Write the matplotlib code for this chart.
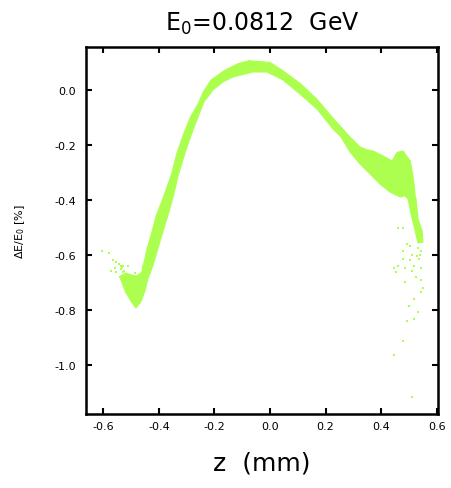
import matplotlib
matplotlib.use("Agg")
import matplotlib.pyplot as plt
from matplotlib.patches import Polygon

# Outline of the dense particle band in (z [mm], dE/E0 [%]) — traced clockwise
band_z = [-0.483, -0.500, -0.520, -0.533, -0.541, -0.519, -0.497, -0.479, -0.461,
          -0.458, -0.453, -0.443, -0.425, -0.410, -0.386, -0.354,
          -0.336, -0.311, -0.286, -0.259, -0.240, -0.212, -0.166, -0.116, -0.076,
          -0.029, 0.000, 0.047, 0.108, 0.169, 0.227, 0.288, 0.324, 0.350, 0.371,
          0.407, 0.440, 0.458, 0.479, 0.505, 0.515, 0.522,
          0.522, 0.526, 0.533, 0.548, 0.551, 0.533, 0.523, 0.508, 0.497, 0.486,
          0.468, 0.432, 0.396, 0.360, 0.324, 0.288, 0.255, 0.227, 0.169, 0.108,
          0.047, -0.011, -0.061, -0.133, -0.169, -0.205, -0.238, -0.259, -0.277,
          -0.295, -0.314, -0.332, -0.346, -0.364, -0.386, -0.404, -0.422, -0.440,
          -0.450, -0.465]
band_de = [-0.792, -0.768, -0.735, -0.700, -0.678, -0.665, -0.673, -0.676, -0.662,
           -0.640, -0.625, -0.578, -0.516, -0.458, -0.396, -0.305,
           -0.233, -0.160, -0.098, -0.051, -0.007, 0.036, 0.069, 0.095, 0.106,
           0.102, 0.100, 0.069, 0.024, -0.034, -0.103, -0.171, -0.207, -0.218, -0.222,
           -0.240, -0.258, -0.227, -0.222, -0.258, -0.313, -0.372,
           -0.380, -0.396, -0.469, -0.513, -0.553, -0.556, -0.513, -0.451, -0.396, -0.385,
           -0.389, -0.371, -0.342, -0.305, -0.269, -0.225, -0.170, -0.142, -0.069, -0.015,
           0.036, 0.065, 0.065, 0.047, 0.029, 0.000, -0.044, -0.098, -0.145,
           -0.196, -0.255, -0.316, -0.378, -0.444, -0.516, -0.578, -0.640, -0.687,
           -0.730, -0.770]

# Isolated particles outside the dense band
halo_z = [-0.605, -0.580, -0.566, -0.555, -0.544, -0.537, -0.530, -0.512, -0.573,
          -0.559, -0.555, -0.537, -0.530, -0.526, -0.486, -0.541, -0.519, -0.512,
          -0.454, -0.533,
          0.461, 0.479, 0.494, 0.505, 0.533, 0.544, 0.479, 0.512, 0.530, 0.541,
          0.479, 0.505, 0.537, 0.461, 0.447, 0.486, 0.512, 0.519, 0.544, 0.454,
          0.526, 0.544, 0.486, 0.551, 0.544, 0.519, 0.501, 0.533, 0.519, 0.494,
          0.479, 0.447, 0.512]
halo_de = [-0.585, -0.593, -0.618, -0.625, -0.633, -0.640, -0.640, -0.640, -0.658,
           -0.647, -0.662, -0.651, -0.662, -0.658, -0.665, -0.680, -0.680, -0.695,
           -0.647, -0.644,
           -0.502, -0.502, -0.560, -0.567, -0.575, -0.585, -0.585, -0.600, -0.604, -0.600,
           -0.615, -0.618, -0.615, -0.640, -0.647, -0.647, -0.658, -0.640, -0.647, -0.662,
           -0.680, -0.691, -0.698, -0.720, -0.735, -0.760, -0.785, -0.807, -0.833, -0.840,
           -0.913, -0.964, -1.116]

x_ticks = [-0.6, -0.4, -0.2, 0.0, 0.2, 0.4, 0.6]
y_ticks = [0.0, -0.2, -0.4, -0.6, -0.8, -1.0]

color = "#adff4f"

fig = plt.figure(figsize=(4.52, 4.89), dpi=100)
ax = fig.add_axes([0.190, 0.151, 0.779, 0.751])

ax.add_patch(Polygon(list(zip(band_z, band_de)), closed=True,
                     facecolor=color, edgecolor=color, linewidth=0.8))
ax.scatter(halo_z, halo_de, s=3, marker="s", color=color, linewidths=0)

ax.set_xlim(-0.663, 0.605)
ax.set_ylim(-1.178, 0.156)
ax.set_xticks(x_ticks)
ax.set_xticklabels([f"{v:.1f}" for v in x_ticks])
ax.set_yticks(y_ticks)
ax.set_yticklabels([f"{v:.1f}" for v in y_ticks])

ax.tick_params(direction="in", length=4, width=1.5, top=True, right=True,
               labelsize=8)
ax.tick_params(axis="x", pad=5)
ax.tick_params(axis="y", pad=7)
for sp in ax.spines.values():
    sp.set_linewidth(1.8)

ax.set_title(r"E$_0$=0.0812  GeV", fontsize=17, pad=12)
ax.set_xlabel("z  (mm)", fontsize=18, labelpad=14)
ax.set_ylabel(r"ΔE/E$_0$ [%]", fontsize=8, labelpad=20)

fig.savefig("out.png", dpi=100)
